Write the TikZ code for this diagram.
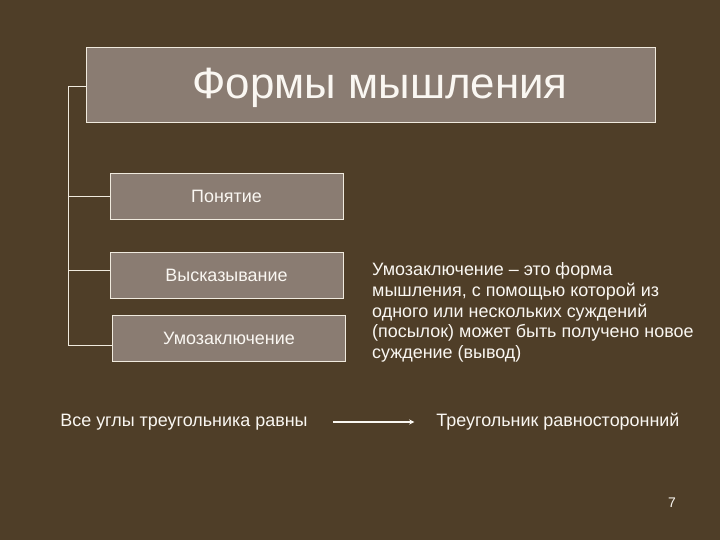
\documentclass[tikz,border=0pt]{standalone}
\usepackage{fontspec}
\setmainfont{Liberation Sans}
\usetikzlibrary{calc}
\definecolor{bg}{RGB}{79,62,40}
\definecolor{boxfill}{RGB}{138,124,114}
\definecolor{edge}{RGB}{240,234,222}
\definecolor{txt}{RGB}{250,247,242}

\begin{document}
\begin{tikzpicture}[x=1bp,y=-1bp]
		\tikzstyle{box}=[draw=edge,fill=boxfill,line width=1pt,text=txt,inner sep=0pt,
			minimum width=233bp,minimum height=46bp,font=\fontsize{18}{21}\selectfont]
		\tikzstyle{plain}=[text=txt,inner sep=3bp,font=\fontsize{18}{21}\selectfont]
		%% background
		\fill[bg] (0,0) rectangle (720,540);
		%% title
		\node[box,minimum width=568bp,minimum height=74bp] (title) at (371,85) {};
		\node[plain,font=\fontsize{44}{50}\selectfont] (titletext) at (380,88) {Формы мышления};
		%% forms
		\node[box] (pon) at (226.5,196) {Понятие};
		\node[box] (vys) at (226.5,275) {Высказывание};
		\node[box] (umo) at (229,338) {Умозаключение};
		%% bracket
		\draw[edge,line width=1pt] ($(title.west)+(0,2)$) -- ++(-18,0)
			|- ($(umo.west)+(0,7)$);
		\draw[edge,line width=1pt] (69,196) -- (pon.west);
		\draw[edge,line width=1pt] (69,270) -- ($(vys.west)+(0,-5)$);
		%% definition
		\node[plain,anchor=north west,align=left,font=\fontsize{18}{21}\selectfont] (defn) at (369,259)
			{Умозаключение -- это форма\\мышления, с помощью которой из\\одного или нескольких суждений\\(посылок) может быть получено новое\\суждение (вывод)};
		%% example
		\node[plain] (premise) at (184,422) {Все углы треугольника равны};
		\node[plain] (concl) at (558,422) {Треугольник равносторонний};
		\draw[->,>=stealth,txt,line width=1.3pt,shorten <=22bp,shorten >=19bp] (premise) -- (concl);
		%% page number
		\node[plain,font=\fontsize{14}{16}\selectfont] (pagenum) at (672,503) {7};
	\end{tikzpicture}
\end{document}
